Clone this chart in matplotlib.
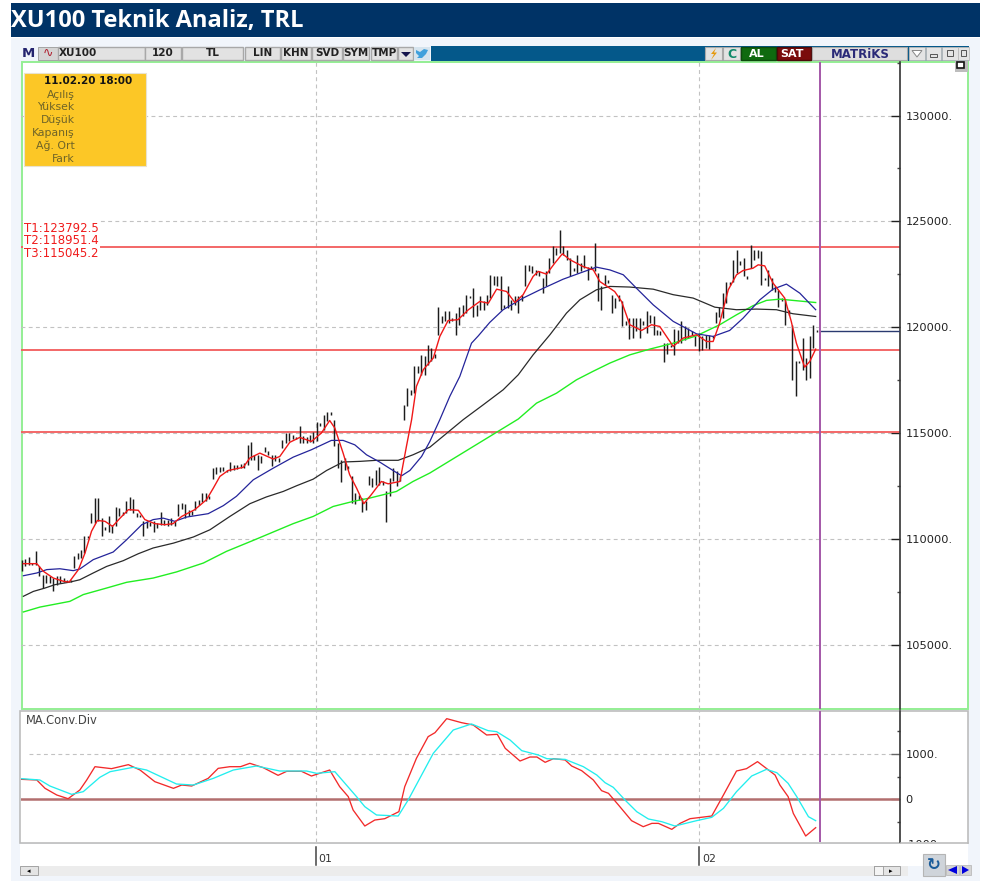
import numpy as np
import matplotlib
matplotlib.use("Agg")
import matplotlib.pyplot as plt
from matplotlib.patches import Rectangle, Polygon
from matplotlib.transforms import blended_transform_factory

W, H = 984, 882

# ---- price bars (120 min)
bar_high = [
    109030, 109060, 109150, 108870, 109420, 108710, 108320, 108320, 108240, 108160,
    108240, 108240, 108160, 108060, 108080, 109190, 109340, 109500, 110130, 110160,
    111230, 111940, 111940, 110990, 110570, 111070, 110680, 111510, 111470, 111260,
    111780, 111990, 111890, 111230, 111150, 110840, 110840, 110790, 110840, 110760,
    111260, 110920, 110920, 110990, 110840, 111660, 111700, 111660, 111390, 111310,
    111780, 111860, 112170, 112170, 112020, 113350, 113390, 113390, 113390, 113280,
    113620, 113510, 113510, 113560, 113590, 114450, 114570, 113980, 113980, 113900,
    114330, 114140, 113980, 113980, 113830, 114690, 115010, 115010, 114930, 114820,
    115320, 114850, 114820, 114930, 115050, 115510, 115480, 115870, 115980, 115980,
    115630, 114530, 113750, 113830, 113430, 112990, 112170, 112100, 111940, 111780,
    112990, 112880, 113280, 113390, 112720, 112250, 112880, 113350, 113200, 112960,
    116340, 117130, 117050, 118150, 118150, 118700, 118630, 119180,
    119020, 118750, 120950, 120540, 120780, 120780, 120430, 120670, 120980, 121060,
    121540, 121490, 121850, 121060, 121490, 121220, 121540, 122480, 122430, 122400,
    122400, 121060, 121930, 121300, 121460, 121460, 121540, 122950, 122950, 122900,
    122710, 122640, 122320, 122640, 123270, 123820, 123740, 124600, 123820, 123660,
    123270, 122790, 123420, 123030, 123420, 122870, 122900, 123970, 122560, 121930,
    122480, 122240, 121540, 121380, 121540, 121220, 120280, 120430, 120430, 120430,
    120430, 120280, 120750, 120590, 120540, 119880, 119810, 119250, 119250, 119180,
    119920, 119880, 120320, 120040, 119960, 119810, 119570, 119730, 119570, 119650,
    119650, 119600, 120700, 120950, 121610, 122160, 122160, 123190, 123660, 123110,
    123270, 122400, 123890, 123660, 123630, 123580, 122320, 122710, 122320, 121930,
    121770, 121380, 121300, 120830, 120120, 118390, 118390, 119490, 118550, 119570,
    120120, 119880,
]
bar_low = [
    108480, 108710, 108790, 108790, 108790, 108240, 107690, 107930, 107930, 107530,
    107850, 107930, 107960, 107990, 107960, 108630, 109060, 109110, 109340, 110050,
    110760, 110760, 110840, 110130, 110410, 110320, 110290, 110630, 111070, 111150,
    111230, 111390, 111230, 111040, 111030, 110160, 110520, 110600, 110320, 110520,
    110680, 110680, 110630, 110680, 110600, 111070, 111420, 110990, 111070, 111150,
    111390, 111620, 111730, 111780, 111890, 112830, 113090, 113150, 113200, 113180,
    113200, 113280, 113310, 113350, 113350, 113510, 113750, 113750, 113240, 113590,
    114090, 113980, 113460, 113670, 113620, 114300, 114530, 114610, 114720, 114720,
    114530, 114530, 114530, 114570, 114530, 114610, 115320, 115160, 115560, 115870,
    114380, 113350, 112680, 113280, 113310, 111700, 111670, 111860, 111260, 111390,
    112570, 112460, 112570, 112570, 112570, 110790, 112050, 112720, 112520, 112720,
    115640, 116270, 116820, 116890, 117840, 117760, 117760, 118230,
    118390, 118550, 119650, 120200, 120280, 120200, 120280, 119650, 120120, 120510,
    120670, 121380, 120480, 120510, 120830, 120830, 121060, 121380, 122010, 121930,
    120830, 120910, 120910, 120830, 121060, 120670, 121220, 121930, 122640, 122560,
    122480, 122400, 121610, 121930, 122560, 123030, 123420, 123500, 123420, 123190,
    122400, 122640, 122560, 122640, 122790, 122240, 122750, 122640, 121220, 120830,
    122010, 122090, 120670, 120910, 121220, 120040, 120120, 119440, 119490, 119810,
    119490, 120120, 119730, 120200, 119650, 119650, 119650, 118340, 118750, 119070,
    118700, 119250, 119250, 119410, 119490, 119650, 119100, 118860, 118940, 119020,
    118970, 119490, 120200, 120480, 120430, 121140, 122010, 122160, 122560, 122950,
    122400, 122290, 122790, 123190, 123270, 122010, 122240, 121930, 121770, 121690,
    120950, 121220, 120120, 120590, 117520, 116740, 118310, 117990, 117520, 117600,
    119020, 119760,
]
last_price = 119835
bar_step = 1.0082

# ---- moving averages, bar number / value
red_x = [0.4, 4.3, 6.2, 9.1, 12, 13.7, 16.4, 18.3, 20.2, 21.9, 24.1, 26.3, 28.5, 30.9, 33.8, 35.7, 38.6, 41.5, 43.9,
         46.4, 50.2, 53.6, 55.6, 57.5, 59.9, 64.3, 66.2, 69.1, 73, 74.9, 77.8, 80.7, 84.1, 87, 89.4, 90.9, 93.3, 95.2,
         97.2, 99.3, 101.5, 104.4, 106.4, 109.8, 111.7, 113.2, 114.6, 116.6, 119.5, 121.4, 123.8, 126.7, 129.7, 133,
         135.5, 137.9, 140.8, 143.2, 145.6, 148.5, 150, 152.4, 154.8, 157, 159.2, 163, 166, 167.9, 172.2, 174.2, 176.6,
         180, 182.9, 185.3, 189.2, 192.1, 196, 198.9, 200.8, 202.7, 205.2, 207.6, 209.5, 212.4, 213.9, 215.8, 218.2,
         221.6, 223.5, 225, 227.4, 228.9, 230.6]
red_y = [108840, 108840, 108480, 108160, 108010, 107970, 108560, 109340, 110370, 110880, 110840, 110600, 110990, 111390,
         111360, 110920, 110730, 110680, 110730, 111070, 111390, 111860, 112410, 112960, 113240, 113390, 113830, 114060,
         113780, 113900, 114570, 114800, 114610, 115010, 115600, 115240, 114060, 113040, 112410, 111670, 112100, 112720,
         112610, 112720, 114380, 115640, 117210, 118000, 118550, 119570, 120320, 120360, 120830, 121220, 121140, 121800,
         121690, 121170, 121540, 122400, 122640, 122510, 123030, 123470, 123190, 122870, 122710, 122160, 121690, 121220,
         120120, 119850, 120120, 120040, 119100, 119490, 119650, 119330, 119330, 120200, 121770, 122480, 122680, 122790,
         122950, 122900, 122090, 121380, 120280, 119250, 118120, 118390, 118970]

blue_x = [0.4, 4.3, 7.2, 11, 14.9, 16.8, 20.7, 26.5, 30.4, 34.8, 38.1, 41, 44.4, 47.8, 54.1, 58.5, 62.3, 67.2, 73, 78.8,
          84.1, 89.9, 93.3, 96.7, 100.1, 103.9, 107.8, 110.3, 112.7, 116.1, 118.5, 121.4, 124.3, 127.2, 130.6, 132.6,
          135.9, 139.8, 145.6, 150.5, 157.2, 162.1, 166.9, 170.8, 174.7, 178.5, 183.4, 189.2, 196, 200.8, 205.6, 209.5,
          214.4, 218.2, 222.1, 226, 230.6]
blue_y = [108270, 108400, 108560, 108600, 108510, 108590, 109030, 109390, 109970, 110680, 110920, 110990, 110840, 111040,
          111200, 111580, 112020, 112800, 113350, 113870, 114220, 114660, 114660, 114450, 113980, 113640, 113240, 112990,
          113240, 113900, 114610, 115640, 116740, 117680, 119250, 119600, 120230, 120830, 121380, 121770, 122270, 122560,
          122840, 122710, 122480, 121850, 121060, 120280, 119690, 119570, 119850, 120430, 121300, 121800, 122040, 121610,
          120830]

black_x = [0.4, 3.3, 6.7, 9.6, 13.9, 16.8, 20.7, 24.6, 29.4, 33.8, 38.1, 44, 49.8, 54.6, 60.4, 66.2, 71, 75.9, 79.8, 84.6,
           88.5, 93.3, 98.2, 103, 109.3, 113.6, 118.5, 128.2, 134, 139.8, 144.2, 148.5, 153.4, 158.2, 162.1, 166.9, 170.8,
           176.6, 183.4, 189.2, 195, 201.3, 207.6, 213.4, 219.2, 224, 230.6]
black_y = [107300, 107530, 107690, 107850, 107970, 108080, 108400, 108710, 108980, 109310, 109580, 109810, 110100, 110440,
           111070, 111670, 111990, 112250, 112520, 112830, 113240, 113640, 113670, 113720, 113720, 113980, 114340, 115640,
           116340, 117050, 117760, 118700, 119650, 120670, 121300, 121770, 121930, 121900, 121800, 121540, 121380, 120950,
           120830, 120860, 120830, 120640, 120510]

green_x = [0.4, 5.2, 13.9, 17.8, 24.6, 30.4, 38.1, 44.9, 52.7, 59.4, 67.2, 78.8, 84.6, 90.4, 96.2, 101.1, 108.8, 113.6,
           118.5, 144.2, 149.5, 155.3, 161.1, 165.9, 170.8, 176.6, 182.4, 189.2, 196, 202.7, 207.6, 212.4, 216.3, 220.2,
           224, 230.6]
green_y = [106560, 106790, 107060, 107380, 107690, 107960, 108160, 108450, 108870, 109420, 109940, 110730, 111070, 111540,
           111780, 111940, 112250, 112720, 113120, 115670, 116420, 116890, 117520, 117920, 118310, 118700, 118970, 119250,
           119600, 120120, 120590, 121020, 121270, 121330, 121270, 121170]

# ---- MACD panel
macd_x = [-0.1, 4.3, 6.7, 10.1, 13.4, 16.8, 18.8, 21.2, 26, 30.9, 34.3, 38.6, 44, 46.4, 49.3, 54.1, 57, 60.4, 63.5, 66.2,
          70.1, 74.4, 76.9, 81.2, 84.1, 89.4, 92.3, 94.8, 96.2, 99.6, 102.5, 105.4, 109.5, 111.2, 114.6, 118, 120, 123.4,
          127.7, 131.1, 135, 138.1, 140.4, 144.7, 147.6, 149.6, 152, 154.4, 157.8, 159.7, 162.6, 166, 168.4, 170.4, 173.3,
          177.1, 180.5, 183, 184.9, 188.8, 191.2, 194.1, 200.4, 203.8, 207.6, 210.5, 213.7, 218.8, 220.2, 222.6, 224.1,
          227.7, 230.6]
macd_y = [437, 422, 237, 89, 7, 200, 422, 718, 674, 763, 644, 385, 237, 311, 289, 459, 681, 718, 718, 793, 696, 526, 615,
          615, 511, 644, 274, 52, -244, -600, -467, -437, -281, 274, 904, 1385, 1474, 1785, 1696, 1644, 1422, 1437, 1126,
          844, 933, 933, 815, 896, 867, 733, 630, 422, 185, 126, -133, -481, -615, -541, -541, -674, -541, -437, -378, 89,
          622, 674, 830, 533, 311, 52, -319, -822, -637]
signal_x = [-0.1, 5.2, 8.1, 14.4, 17.8, 22.6, 25.6, 32.3, 36.2, 44.9, 49.8, 55.6, 61.4, 68.1, 74.9, 82.7, 85.6, 90.9, 97.2,
            99.6, 103, 109.3, 112.2, 119.5, 125.3, 130.6, 135.4, 137.9, 141.8, 145.2, 150, 152.5, 157.8, 163.1, 167, 169.4,
            171.8, 175.2, 178.6, 182, 185.9, 189.7, 196, 200.4, 203.8, 207.6, 212, 216.3, 219.3, 222.6, 225.1, 228.5, 230.6]
signal_y = [452, 422, 289, 104, 163, 481, 607, 704, 644, 333, 311, 459, 644, 733, 622, 622, 570, 607, 52, -170, -355, -378,
            -22, 1015, 1533, 1667, 1519, 1496, 1311, 1074, 978, 896, 881, 718, 533, 363, 259, -22, -281, -444, -504, -600,
            -481, -407, -207, 163, 511, 659, 585, 348, 52, -393, -481]

target_levels = [123792.5, 118951.4, 115045.2]
target_labels = ["T1:123792.5", "T2:118951.4", "T3:115045.2"]
price_ticks = [105000, 110000, 115000, 120000, 125000, 130000]
month_pos = [85.4, 196.7]
month_labels = ["01", "02"]
cursor_pos = 231.8
info_labels = ["Açılış", "Yüksek", "Düşük", "Kapanış", "Ağ. Ort", "Fark"]
toolbar_left = [("XU100", 58, 145), ("120", 145, 181), ("TL", 182, 243), ("LIN", 245, 280), ("KHN", 281, 311),
                ("SVD", 312, 342), ("SYM", 343, 369), ("TMP", 371, 397)]

fig = plt.figure(figsize=(W / 100, H / 100), dpi=100, facecolor="white")


def px_axes(left, top, right, bottom, z):
    return fig.add_axes([left / W, 1 - bottom / H, (right - left) / W, (bottom - top) / H], zorder=z)


# background chrome, pixel coordinates
bg = px_axes(0, 0, W, H, 0)
bg.set_xlim(0, W)
bg.set_ylim(H, 0)
bg.axis("off")


def box(a, l, t, r, b, fc, ec="none", lw=0.8):
    a.add_patch(Rectangle((l, t), r - l, b - t, facecolor=fc, edgecolor=ec, linewidth=lw))


box(bg, 11, 38, 980, 881, "#f1f5fb")
box(bg, 11, 3, 980, 37, "#003366")
bg.text(11, 20.5, "XU100 Teknik Analiz, TRL", color="white", fontsize=17, fontweight="bold",
        family="Open Sans", va="center", ha="left")
box(bg, 20, 46, 969, 61, "#04588a")
box(bg, 20, 46, 431, 61, "#f1f5fb")
box(bg, 22, 62, 968, 709, "white", ec="#94ee94", lw=1.4)
box(bg, 20, 711, 968, 843, "white", ec="#bdbdbd", lw=1.2)
box(bg, 20, 844, 968, 866, "white")
box(bg, 20, 866, 908, 876, "#ececec")
box(bg, 20, 866, 38, 875, "#e4e4e4", ec="#999999", lw=0.6)
box(bg, 874, 866, 900, 875, "#e4e4e4", ec="#999999", lw=0.6)
box(bg, 874, 866, 883, 875, "#f4f4f4", ec="#999999", lw=0.6)
bg.text(29, 871, "◂", fontsize=5, ha="center", va="center", color="black")
bg.text(891, 871, "▸", fontsize=5, ha="center", va="center", color="black")

# main price panel
ax = px_axes(21, 62, 900, 709, 2)
ax.set_xlim(-0.29, 255.1)
ax.set_ylim(101978, 132526)
ax.patch.set_alpha(0)
x_bars = np.arange(len(bar_high)) * bar_step
grid_style = dict(color="#c2c2c2", lw=0.8, ls=(0, (3.5, 3)), zorder=1)
for yt in price_ticks:
    ax.axhline(yt, **grid_style)
for xm in month_pos:
    ax.axvline(xm, **grid_style)
for lv in target_levels:
    ax.axhline(lv, color="#f25c5c", lw=1.3, zorder=2)
ax.vlines(x_bars, bar_low, bar_high, color="#1c1c1c", lw=1.05, zorder=3)
ax.plot(green_x, green_y, color="#22ee22", lw=1, zorder=4)
ax.plot(black_x, black_y, color="#2a2a2a", lw=0.9, zorder=4)
ax.plot(blue_x, blue_y, color="#24249a", lw=0.9, zorder=5)
ax.plot(red_x, red_y, color="#f01818", lw=1, zorder=6)
ax.plot([cursor_pos, 255.1], [last_price, last_price], color="#2a3a70", lw=1, zorder=4)
ax.axvline(cursor_pos, color="#a457a8", lw=1.4, zorder=7)

for side in ["top", "left", "bottom"]:
    ax.spines[side].set_visible(False)
ax.spines["right"].set_color("#333333")
ax.spines["right"].set_linewidth(1.2)
ax.yaxis.tick_right()
ax.set_yticks(price_ticks)
ax.set_yticklabels([f"{v}." for v in price_ticks], fontsize=8.2, color="#222222")
ax.set_yticks([v + 2500 for v in price_ticks], minor=True)
ax.tick_params(axis="y", which="major", direction="in", length=6.5, width=1, pad=4, color="#222222")
ax.tick_params(axis="y", which="minor", direction="in", length=2.5, width=1, color="#444444")
ax.set_xticks([])

# MACD panel
ax2 = px_axes(21, 711, 900, 842, 2)
ax2.set_xlim(-0.29, 255.1)
ax2.set_ylim(-955, 1955)
ax2.patch.set_alpha(0)
ax2.plot([2, 255.1], [1000, 1000], **grid_style)
for xm in month_pos:
    ax2.axvline(xm, **grid_style)
ax2.axhline(0, color="#b26e6e", lw=1.8, zorder=2)
ax2.plot(macd_x, macd_y, color="#f22a2a", lw=0.95, zorder=4)
ax2.plot(signal_x, signal_y, color="#22eeee", lw=0.95, zorder=5)
ax2.axvline(cursor_pos, color="#a457a8", lw=1.4, zorder=7)
for side in ["top", "left", "bottom"]:
    ax2.spines[side].set_visible(False)
ax2.spines["right"].set_color("#333333")
ax2.spines["right"].set_linewidth(1.2)
ax2.yaxis.tick_right()
ax2.set_yticks([0, 1000])
ax2.set_yticklabels(["0", "1000."], fontsize=8.2, color="#222222")
ax2.set_yticks([-500, 500, 1500], minor=True)
ax2.tick_params(axis="y", which="major", direction="in", length=6.5, width=1, pad=4, color="#666666")
ax2.tick_params(axis="y", which="minor", direction="in", length=2.5, width=1, color="#444444")
ax2.set_xticks([])
ax2.text(0.005, 0.925, "MA.Conv.Div", transform=ax2.transAxes, fontsize=8.3, color="#444444", va="center")

# month marks under the lower panel
tr = blended_transform_factory(ax2.transData, bg.transData)
for xm, lab in zip(month_pos, month_labels):
    bg.plot([xm, xm], [847, 865], transform=tr, color="#444444", lw=1.1, clip_on=False)
    bg.annotate(lab, (xm, 859), xycoords=tr, xytext=(2, 0), textcoords="offset points",
                fontsize=7.8, color="#333333", va="center", ha="left")

# top overlay: toolbar, info box, labels
top = px_axes(0, 0, W, H, 5)
top.set_xlim(0, W)
top.set_ylim(H, 0)
top.axis("off")
top.patch.set_alpha(0)

# the -1000 label of the lower scale is cut off by the panel edge in the original
top.text(904, 845, "-1000.", fontsize=8.2, color="#222222", ha="left", va="center", zorder=0.5)
box(top, 901, 842, 967, 852, "white")
top.plot([901, 968], [842.5, 842.5], color="#bdbdbd", lw=1.2)

top.text(28, 53.5, "M", fontsize=9.5, fontweight="bold", color="#24246e", ha="center", va="center")
box(top, 38, 47, 58, 60, "#d4d4d4", ec="#9a9a9a", lw=0.6)
top.text(48, 53.5, "∿", fontsize=9, color="#b02030", ha="center", va="center")
for lab, l, r in toolbar_left:
    box(top, l, 47, r, 60, "#e2e2e2", ec="#a8a8a8", lw=1)
    if lab == "XU100":
        top.text(l + 1, 53.5, lab, fontsize=7.5, fontweight="bold", color="#222222", ha="left", va="center")
    else:
        top.text((l + r) / 2, 53.5, lab, fontsize=7.5, fontweight="bold", color="#222222", ha="center", va="center")
box(top, 398, 47, 413, 60, "#e2e2e2", ec="#a8a8a8", lw=1)
top.add_patch(Polygon([[401, 52], [411, 52], [406, 57]], facecolor="#14144c"))
box(top, 414, 47, 430, 60, "#d6e4ee")
top.add_patch(Polygon([[416, 50], [420, 52], [424, 49], [428, 50], [426, 54], [422, 58], [417, 58], [419, 56], [416, 53]],
                      facecolor="#3fa0dc"))

box(top, 705, 47, 722, 60, "#e2e2e2", ec="#a8a8a8", lw=0.8)
top.add_patch(Polygon([[716, 48], [711, 54], [714, 54], [711, 60], [717, 52.5], [714, 52.5]], facecolor="#e59a10"))
box(top, 723, 47, 740, 60, "#e2e2e2", ec="#a8a8a8", lw=0.8)
top.text(731.5, 54, "C", fontsize=9, fontweight="bold", color="#108a6a", ha="center", va="center")
box(top, 741, 47, 776, 60, "#0f6a0f", ec="#0b4a0b", lw=1)
top.text(757, 54, "AL", fontsize=8, fontweight="bold", color="white", ha="center", va="center")
box(top, 777, 47, 811, 60, "#7a0c0c", ec="#4c0808", lw=1)
top.text(792, 54, "SAT", fontsize=8, fontweight="bold", color="white", ha="center", va="center")
box(top, 812, 47, 907, 60, "#dedede", ec="#a8a8a8", lw=0.8)
top.text(860, 54, "MATRiKS", fontsize=8.5, fontweight="bold", color="#2a2a78", ha="center", va="center")
for l, r in [(909, 925), (926, 941), (942, 958), (958, 969)]:
    box(top, l, 47, r, 60, "#e4e4e4", ec="#bbbbbb", lw=0.6)
top.add_patch(Polygon([[912, 50.5], [922, 50.5], [917, 57]], facecolor="white", edgecolor="#888888", linewidth=0.7))
box(top, 930, 54, 937, 57, "none", ec="#555555", lw=0.7)
box(top, 947, 50, 953, 56, "none", ec="#555555", lw=0.7)
box(top, 961, 50, 966, 56, "none", ec="#555555", lw=0.7)
box(top, 955, 61, 968, 72, "#bdbdbd")
box(top, 957, 62, 964, 68, "white", ec="#111111", lw=1.2)

# info box
box(top, 24, 73, 146, 166, "#fcc726", ec="#e8e2d0", lw=0.8)
top.text(132, 81.5, "11.02.20 18:00", fontsize=7.5, fontweight="bold", color="#141414", ha="right", va="center")
for k, lab in enumerate(info_labels):
    top.text(74.5, 94.5 + k * 12.85, lab, fontsize=7.8, color="#6f6428", ha="right", va="center")

# target labels
for k, lab in enumerate(target_labels):
    top.text(24, 228 + k * 12.7, lab, fontsize=8.5, color="#f01c1c", ha="left", va="center",
             bbox=dict(facecolor="white", edgecolor="none", pad=0.8))

# bottom right buttons
box(top, 923, 854, 945, 876, "#cfd4da", ec="#b5b5b5", lw=0.8)
top.text(934, 865, "↻", fontsize=12, fontweight="bold", color="#1a5c9a", ha="center", va="center")
box(top, 946, 865, 959, 875, "#d4d4d4", ec="#bbbbbb", lw=0.6)
top.add_patch(Polygon([[948, 870], [957, 866], [957, 874]], facecolor="#0000dd"))
box(top, 960, 865, 971, 875, "#d4d4d4", ec="#bbbbbb", lw=0.6)
top.add_patch(Polygon([[969, 870], [962, 866], [962, 874]], facecolor="#0000dd"))

fig.savefig("out.png", dpi=100)
